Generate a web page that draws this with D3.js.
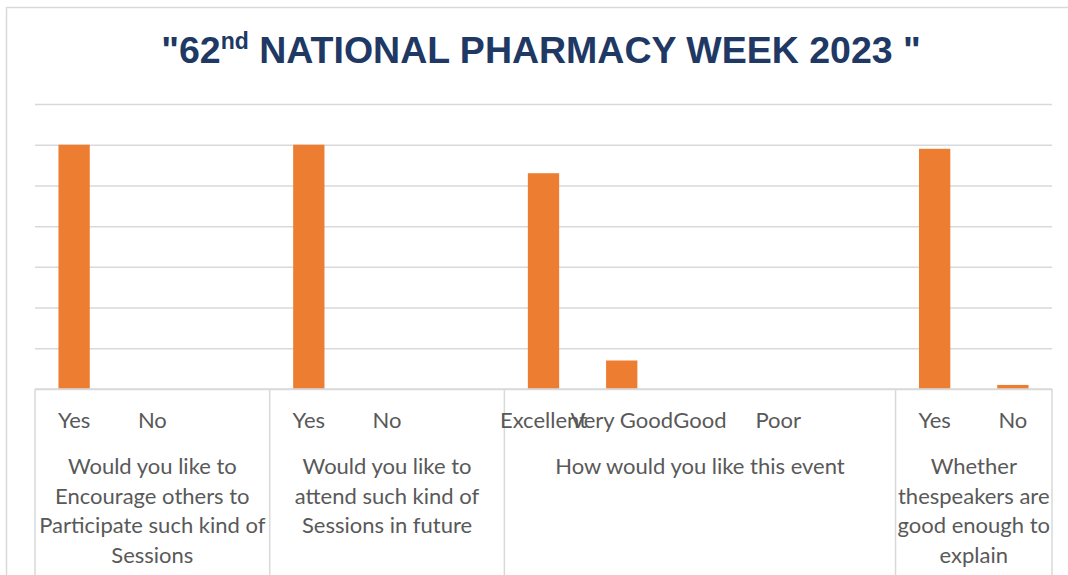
<!DOCTYPE html>
<html>
<head>
<meta charset="utf-8">
<script src="https://cdn.jsdelivr.net/npm/d3@7"></script>
<style>
  body { margin: 0; background: #fff; }
</style>
</head>
<body>
<div id="chart"></div>
<script>
// Data arrays (blank leaf = empty gap category, like in the original sheet)
let leafLabels = ["Yes", "No", "", "Yes", "No", "", "Excellent", "Very Good", "Good", "Poor", "", "Yes", "No"];
let responses  = [120, 0, 0, 120, 0, 0, 106, 14, 0, 0, 0, 118, 2];
let groupSizes = [3, 3, 5, 2];
let groupLines = [
  ["Would you like to", "Encourage others to", "Participate such kind of", "Sessions"],
  ["Would you like to", "attend such kind of", "Sessions in future"],
  ["How would you like this event"],
  ["Whether", "thespeakers are", "good enough to", "explain"]
];
let yTicks = [0, 20, 40, 60, 80, 100, 120, 140];

// svg attributes
let svgWidth = 1068;
let svgHeight = 575;
let plotLeft = 35, plotRight = 1052, plotTop = 104, plotBase = 389;

let svg = d3.select("#chart")
  .append("svg")
  .attr("width", svgWidth)
  .attr("height", svgHeight);

// chart frame (runs off the right and bottom edge)
svg.append("rect")
  .attr("x", 6.5).attr("y", 7.5)
  .attr("width", 1100).attr("height", 600)
  .attr("fill", "none")
  .attr("stroke", "#d9d9d9")
  .attr("stroke-width", 1.5);

// title
let title = svg.append("text")
  .attr("x", 541)
  .attr("y", 63)
  .attr("text-anchor", "middle")
  .attr("font-family", "Liberation Sans, Arial, sans-serif")
  .attr("font-weight", "bold")
  .attr("font-size", 37.5)
  .attr("fill", "#203864");
title.append("tspan").text("\"62");
title.append("tspan").attr("font-size", 23).attr("dy", -14).text("nd");
title.append("tspan").attr("dy", 14).text(" NATIONAL PHARMACY WEEK 2023 \"");

// scales
let xScale = d3.scaleBand()
  .domain(d3.range(leafLabels.length))
  .range([plotLeft, plotRight])
  .paddingInner(0.6)
  .paddingOuter(0.3);

let yScale = d3.scaleLinear()
  .domain([0, 140])
  .range([plotBase, plotTop]);

// gridlines
let grid = svg.append("g")
  .attr("transform", `translate(${plotLeft},0)`)
  .call(d3.axisLeft(yScale).tickValues(yTicks).tickSize(-(plotRight - plotLeft)).tickFormat(""));
grid.select(".domain").remove();
grid.selectAll("line").attr("stroke", "#d9d9d9").attr("stroke-width", 1.5);

// bars
svg.selectAll("rect.bar")
  .data(responses)
  .enter()
  .append("rect")
  .attr("class", "bar")
  .attr("x", (d, i) => xScale(i))
  .attr("y", d => yScale(d))
  .attr("width", xScale.bandwidth())
  .attr("height", d => plotBase - yScale(d))
  .attr("fill", "#ed7d31");

// group boundaries
let step = xScale.step();
let bounds = [0];
groupSizes.forEach(n => bounds.push(bounds[bounds.length - 1] + n));
let boundX = bounds.map(b => plotLeft + b * step);

svg.selectAll("line.sep")
  .data(boundX)
  .enter()
  .append("line")
  .attr("class", "sep")
  .attr("x1", d => d).attr("x2", d => d)
  .attr("y1", plotBase).attr("y2", 575)
  .attr("stroke", "#d9d9d9")
  .attr("stroke-width", 1.5);

// baseline
svg.append("line")
  .attr("x1", plotLeft).attr("x2", plotRight)
  .attr("y1", plotBase).attr("y2", plotBase)
  .attr("stroke", "#d9d9d9")
  .attr("stroke-width", 1.5);

let labelFont = "Lato, Calibri, sans-serif";

// leaf labels
svg.selectAll("text.leaf")
  .data(leafLabels)
  .enter()
  .append("text")
  .attr("class", "leaf")
  .attr("x", (d, i) => xScale(i) + xScale.bandwidth() / 2)
  .attr("y", 428)
  .attr("text-anchor", "middle")
  .attr("font-family", labelFont)
  .attr("font-size", 22)
  .attr("fill", "#595959")
  .text(d => d);

// group labels
groupLines.forEach((lines, g) => {
  let cx = (boundX[g] + boundX[g + 1]) / 2;
  let t = svg.append("text")
    .attr("x", cx)
    .attr("y", 474)
    .attr("text-anchor", "middle")
    .attr("font-family", labelFont)
    .attr("font-size", 22)
    .attr("fill", "#595959");
  lines.forEach((ln, k) => {
    t.append("tspan").attr("x", cx).attr("dy", k === 0 ? 0 : 29.7).text(ln);
  });
});
</script>
</body>
</html>
